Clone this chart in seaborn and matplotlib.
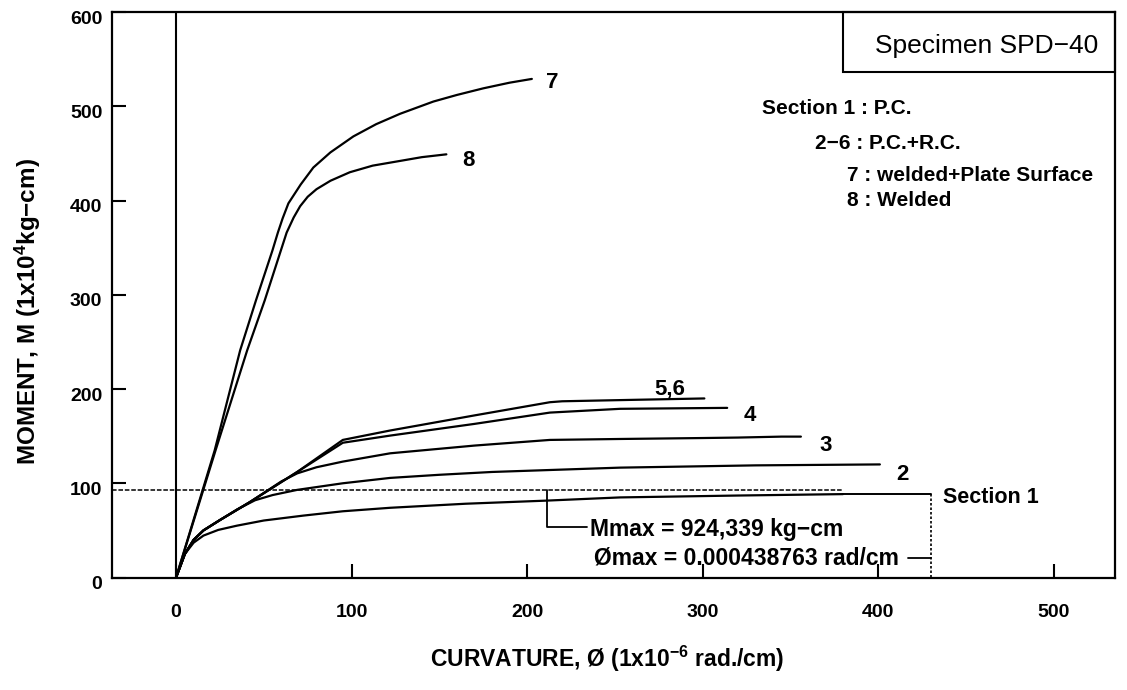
import numpy as np
import pandas as pd
import matplotlib
matplotlib.use("Agg")
import matplotlib.pyplot as plt
import matplotlib.transforms as mtrans
from matplotlib.patches import Rectangle
import seaborn as sns

# ---------------- data ----------------
# curvature (1e-6 rad/cm) and moment (1e4 kg-cm)
sec1_x = [0, 5, 10, 15.6, 24, 34.6, 50, 72.5, 95, 122, 165, 211, 253, 320, 380]
sec1_y = [0, 25, 37, 44.5, 50.5, 55, 60.5, 65.7, 70.3, 74, 78.3, 81.6, 85, 87, 88.5]

c2_x = [0, 5, 10, 15.6, 25, 35, 45, 55, 69, 95, 122, 150, 180, 253, 330, 401]
c2_y = [0, 25, 40, 50, 61, 72.5, 82, 87.5, 93, 100, 105.7, 109, 112, 116.6, 119, 120]

c3_x = [0, 5, 10, 15.6, 25, 42, 60, 69, 80, 95, 122, 170, 213, 253, 300, 320, 345, 356]
c3_y = [0, 25, 40, 50, 61, 80, 102, 110.5, 117, 123, 131.8, 140, 146, 147, 148, 148.5, 149.5, 149.5]

c4_x = [0, 5, 10, 15.6, 25, 42, 69, 95, 122, 170, 213, 253, 314]
c4_y = [0, 25, 40, 50, 61, 80, 112, 143, 150.6, 163, 175, 179, 180]

c56_x = [0, 5, 10, 15.6, 25, 42, 69, 95, 122, 170, 213, 220, 260, 301]
c56_y = [0, 25, 40, 50, 61, 80, 112, 146, 156, 172, 186, 187, 188.5, 190]

c7_x = [0, 22, 36.5, 45.5, 54.9, 58, 60.7, 64, 71, 78.2, 87.9, 101, 114, 127.6,
        146.6, 160, 175, 190, 202.7]
c7_y = [0, 135, 241, 294, 347, 366, 381, 397, 417, 435, 451, 468, 481, 492,
        505, 512, 519, 525, 529]

c8_x = [0, 22.5, 40.5, 50.5, 59.7, 63, 67, 70.7, 75, 80, 88, 99, 112, 127.6, 140, 154]
c8_y = [0, 135, 241, 294, 347, 366, 382, 394, 404, 412, 421, 430, 437, 442, 446, 449]

curve_names = ["Section 1", "2", "3", "4", "5,6", "7", "8"]
curve_label_x = [None, 414, 370, 327, 281.5, 214.5, 166.5]
curve_label_y = [None, 109, 140, 172, 200, 525, 442]

m_max = 92.43          # 924,339 kg-cm
phi_box = 430          # box edge drawn at the curvature limit
x_ticks = [0, 100, 200, 300, 400, 500]
y_ticks = [0, 100, 200, 300, 400, 500, 600]

legend_lines = ["Section 1 : P.C.", "2\u22126 : P.C.+R.C.",
                "7 : welded+Plate Surface", "8 : Welded"]
legend_x = [334, 364, 382, 382]
legend_y = [498, 461, 427, 400.5]

# ---------------- build frame ----------------
frames = []
for name, xs, ys in zip(curve_names,
                        [sec1_x, c2_x, c3_x, c4_x, c56_x, c7_x, c8_x],
                        [sec1_y, c2_y, c3_y, c4_y, c56_y, c7_y, c8_y]):
    frames.append(pd.DataFrame({"curv": xs, "moment": ys, "curve": name}))
df = pd.concat(frames, ignore_index=True)

# ---------------- style ----------------
sns.set_theme(style="white")
plt.rcParams["font.family"] = ["Liberation Sans", "DejaVu Sans"]
plt.rcParams["mathtext.fontset"] = "custom"
plt.rcParams["mathtext.rm"] = "Liberation Sans:bold"
plt.rcParams["mathtext.it"] = "Liberation Sans:bold"
plt.rcParams["mathtext.bf"] = "Liberation Sans:bold"
for k in ["text.color", "axes.labelcolor", "xtick.color", "ytick.color", "axes.edgecolor"]:
    plt.rcParams[k] = "black"

fig = plt.figure(figsize=(11.27, 6.90), dpi=100)
ax = fig.add_axes([0.0994, 0.1630, 0.8900, 0.8196])

sns.lineplot(data=df, x="curv", y="moment", hue="curve", units="curve",
             estimator=None, sort=False, palette=["black"] * len(curve_names),
             linewidth=1.6, legend=False, ax=ax)

ax.set_xlim(-36.5, 535)
ax.set_ylim(0, 600)

# y axis line at zero curvature
ax.axvline(0, color="black", lw=1.5)

# Mmax dashed line
ax.plot([-36.5, 380], [m_max, m_max], color="black", lw=1.1,
        linestyle=(0, (3, 1.2)))
# section 1 box
ax.plot([380, phi_box], [88.7, 88.7], color="black", lw=1.4)
ax.plot([phi_box, phi_box], [88.7, 0], color="black", lw=1.2, linestyle=(0, (1.5, 1.2)))
ax.plot([417, phi_box], [21, 21], color="black", lw=1.3)
# Mmax leader
ax.plot([211.4, 211.4, 234], [m_max, 54, 54], color="black", lw=1.3)

ax.text(236, 51, "Mmax = 924,339 kg\u2212cm", fontsize=16.5, fontweight="bold",
        ha="left", va="center")
ax.text(238, 21, "\u00d8max = 0.000438763 rad/cm", fontsize=16.5, fontweight="bold",
        ha="left", va="center")
ax.text(437, 85, "Section 1", fontsize=15.5, fontweight="bold",
        ha="left", va="center")

for name, lx, ly in zip(curve_names, curve_label_x, curve_label_y):
    if lx is not None:
        ax.text(lx, ly, name, fontsize=16, fontweight="bold", ha="center", va="center")

# specimen box
ax.add_patch(Rectangle((380, 536.3), 535 - 380, 600 - 536.3, fill=False,
                       edgecolor="black", lw=1.5, clip_on=False))
ax.text(462, 564, "Specimen SPD\u221240", fontsize=19, ha="center", va="center")

for txt, lx, ly in zip(legend_lines, legend_x, legend_y):
    ax.text(lx, ly, txt, fontsize=15, fontweight="bold", ha="left", va="center")

# axes styling
for sp in ax.spines.values():
    sp.set_visible(True)
    sp.set_color("black")
    sp.set_linewidth(1.6)
ax.set_xticks(x_ticks)
ax.set_yticks(y_ticks)
ax.tick_params(axis="both", direction="in", length=10, width=1.5, color="black",
               labelcolor="black", labelsize=14, bottom=True, left=True,
               top=False, right=False)
ax.tick_params(axis="x", pad=19)
ax.tick_params(axis="y", pad=7)
for lab in ax.get_xticklabels() + ax.get_yticklabels():
    lab.set_fontweight("bold")
off = mtrans.ScaledTranslation(0, -5 / 100, fig.dpi_scale_trans)
for lab in ax.get_yticklabels():
    lab.set_transform(lab.get_transform() + off)

ax.set_xlabel(r"CURVATURE, $\O$ (1x10$^{-6}$ rad./cm)", fontsize=16.5, fontweight="bold")
ax.set_ylabel(r"MOMENT, M (1x10$^{4}$kg$-$cm)", fontsize=17.5, fontweight="bold")
ax.xaxis.set_label_coords(0.4935, -0.118)
ax.yaxis.set_label_coords(-0.0688, 0.47)

fig.savefig("out.png", dpi=100, facecolor="white")
